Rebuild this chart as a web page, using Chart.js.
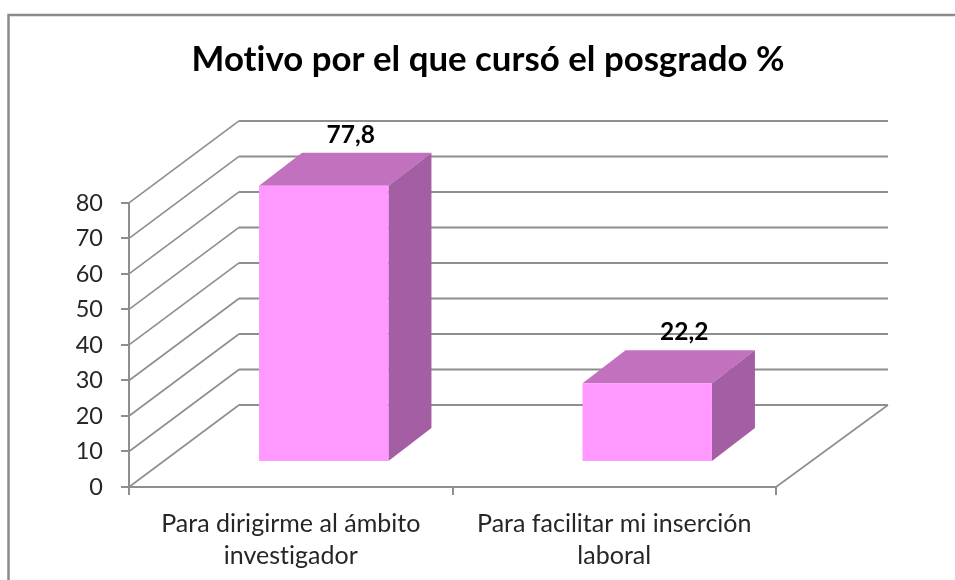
<!DOCTYPE html>
<html><head><meta charset="utf-8">
<style>html,body{margin:0;padding:0;background:#fff}canvas{display:block;filter:blur(0.45px)}</style>
<script src="https://cdn.jsdelivr.net/npm/chart.js@4/dist/chart.umd.min.js"></script>
</head><body>
<div style="width:955px;height:580px"><canvas id="c"></canvas></div>
<script>
const chartTitle = 'Motivo por el que cursó el posgrado %';
const categories = [['Para dirigirme al ámbito','investigador'],['Para facilitar mi inserción','laboral']];
const values = [77.8, 22.2];
const valueLabels = ['77,8','22,2'];

const FRONT='#ff99ff', TOP='#c271be', SIDE='#a45ea4', LINE='#8e8e8e';
const WALL={x:110,y:-82}, BAR={x:33,y:-25}, DEPTH={x:43,y:-33};
const LABEL_NUDGE=[27,37];

function poly(ctx,pts,fill){ctx.beginPath();pts.forEach((p,i)=>i?ctx.lineTo(p[0],p[1]):ctx.moveTo(p[0],p[1]));ctx.closePath();ctx.fillStyle=fill;ctx.fill();}

const scene={
  id:'scene',
  afterLayout(chart){ chart.titleBlock.left+=100; chart.titleBlock.right+=100; },
  beforeDraw(chart){
    const c=chart.ctx;
    c.letterSpacing='0.01px';
    c.save();c.fillStyle='#fff';c.fillRect(0,0,955,580);
    c.strokeStyle='#8a8a8a';c.lineWidth=2.5;c.beginPath();c.moveTo(8.5,580);c.lineTo(8.5,15);c.lineTo(955,15);c.stroke();c.restore();
  },
  beforeDatasetsDraw(chart){
    const c=chart.ctx,y=chart.scales.y,a=chart.chartArea;
    c.save();c.strokeStyle=LINE;c.lineJoin='round';
    y.ticks.forEach(t=>{
      const py=y.getPixelForValue(t.value);
      c.lineWidth=1.6;c.beginPath();c.moveTo(a.left,py);c.lineTo(a.left+WALL.x,py+WALL.y);c.stroke();
      c.lineWidth=2;c.beginPath();c.moveTo(a.left+WALL.x,py+WALL.y);c.lineTo(a.right+WALL.x+2,py+WALL.y);c.stroke();
    });
    c.lineWidth=1.6;c.beginPath();c.moveTo(a.right,a.bottom);c.lineTo(a.right+WALL.x+2,a.bottom+WALL.y);c.stroke();
    c.restore();
  },
  beforeDatasetDraw(chart,args){
    const c=chart.ctx;
    c.save();
    chart.getDatasetMeta(args.index).data.forEach(b=>{
      const l=b.x-b.width/2+BAR.x,r=b.x+b.width/2+BAR.x,t=b.y+BAR.y,bt=b.base+BAR.y;
      poly(c,[[l,t],[r,t],[r+DEPTH.x,t+DEPTH.y],[l+DEPTH.x,t+DEPTH.y]],TOP);
      poly(c,[[r,t],[r+DEPTH.x,t+DEPTH.y],[r+DEPTH.x,bt+DEPTH.y],[r,bt]],SIDE);
    });
    c.translate(BAR.x,BAR.y);
  },
  afterDatasetDraw(chart,args){
    const c=chart.ctx;c.restore();
    c.save();c.font='bold 24.5px Lato';c.fillStyle='#000';c.textAlign='center';c.textBaseline='middle';
    chart.getDatasetMeta(args.index).data.forEach((b,i)=>{
      c.fillText(valueLabels[i],b.x+BAR.x+LABEL_NUDGE[i],b.y+BAR.y-51);
    });
    c.restore();
  }
};

new Chart(document.getElementById('c'),{
  type:'bar',
  data:{labels:categories,datasets:[{data:values,backgroundColor:FRONT,borderWidth:0,barPercentage:0.4,categoryPercentage:1,clip:false}]},
  plugins:[scene],
  options:{
    responsive:true,maintainAspectRatio:false,animation:false,
    layout:{padding:{left:0,right:179,top:0,bottom:0}},
    plugins:{legend:{display:false},tooltip:{enabled:false},
      title:{display:true,text:chartTitle,color:'#000',font:{family:'Lato',size:34.8,weight:'bold',lineHeight:1.2},padding:{top:39,bottom:122.2}}},
    scales:{
      x:{afterFit(s){s.height=93;},
        grid:{drawOnChartArea:false,color:LINE,lineWidth:2,tickLength:8},border:{color:LINE,width:2},
        ticks:{color:'#262626',maxRotation:0,autoSkip:false,padding:13,font:{family:'Lato',size:25,lineHeight:1.28}}},
      y:{min:0,max:80,afterFit(s){s.width=129;},
        grid:{drawOnChartArea:false,color:LINE,lineWidth:2,tickLength:8},border:{color:LINE,width:2},
        ticks:{stepSize:10,color:'#262626',padding:18,font:{family:'Lato',size:23.5}}}
    }
  }
});
</script></body></html>
